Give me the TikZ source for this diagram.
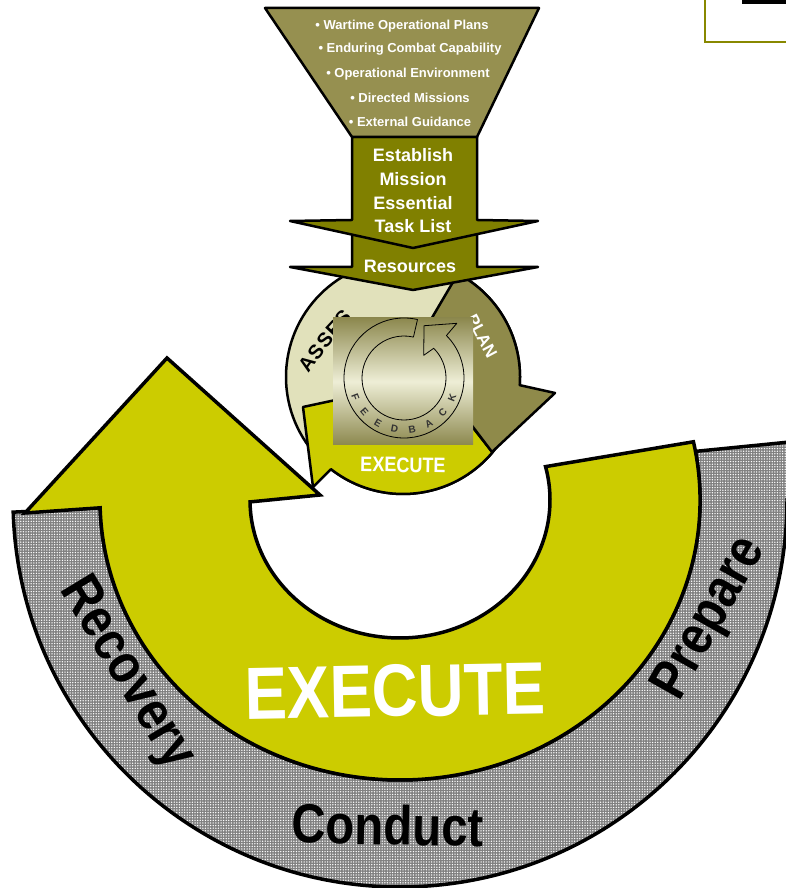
\documentclass[tikz,border=0pt]{standalone}
\usepackage{fontspec}
\setmainfont{Liberation Sans}
\newfontfamily\narrowsf[FakeStretch=0.86]{Liberation Sans}
\usetikzlibrary{patterns.meta}

\definecolor{bandgray}{RGB}{128,128,128}
\definecolor{ringyellow}{RGB}{204,204,0}
\definecolor{funnelolive}{RGB}{150,144,80}
\definecolor{stemolive}{RGB}{128,128,0}
\definecolor{assesscream}{RGB}{225,225,187}
\definecolor{planolive}{RGB}{143,138,74}
\definecolor{fbolive}{RGB}{140,136,78}
\definecolor{fbcream}{RGB}{238,238,214}
\definecolor{boxolive}{RGB}{136,136,0}

\tikzset{
  ringedge/.style={draw=black, line width=3.5pt, line join=miter},
  cycleedge/.style={draw=black, line width=2.5pt, line join=round},
  feedbackline/.style={draw=black, line width=0.8pt, line join=round},
  bandfill/.style={preaction={fill=bandgray},
    preaction={pattern={Dots[distance=2.6pt, radius=0.75pt]}, pattern color=white}},
  bulletlabel/.style={text=white, font=\bfseries\fontsize{13}{13}\selectfont},
  stemlabel/.style={text=white, align=center, font=\bfseries\fontsize{18}{23.7}\selectfont},
  assesslabel/.style={text=black, inner sep=0pt, font=\bfseries\fontsize{20}{20}\selectfont},
  cyclelabel/.style={text=white, font=\bfseries\fontsize{17}{17}\selectfont},
  fbletter/.style={text=black!80, inner sep=0pt, font=\bfseries\fontsize{10}{10}\selectfont},
  phaselabel/.style={text=black, font=\narrowsf\bfseries\fontsize{55}{55}\selectfont},
  executelabel/.style={text=white, font=\narrowsf\bfseries\fontsize{74}{74}\selectfont},
}

\begin{document}
\begin{tikzpicture}[x=1pt, y=1pt]
  \useasboundingbox (0,0) rectangle (786,888);
  \clip (0,0) rectangle (786,888);

  % Phase band and the big Execute arrow, around one centre
  \begin{scope}[shift={(400,388)}]
    \path[bandfill, ringedge] (181.8:387) arc[start angle=181.8, end angle=360, radius=387]
      -- (400,0) -- (400,59) -- (10:300 and 280)
      arc[start angle=10, end angle=-178.4, x radius=300, y radius=280] -- cycle;
    \draw[ringedge, fill=ringyellow] (14:150 and 138) -- (12:300 and 280)
      arc[start angle=12, end angle=-178.4, x radius=300, y radius=280]
      -- (-375,-13) -- (-233,142) -- (-80,5) -- (180.8:150 and 138)
      arc[start angle=180.8, end angle=374, x radius=150, y radius=138] -- cycle;
  \end{scope}

  % Phase names
  \node[phaselabel, rotate=-58.8] (recovery) at (126,214) {Recovery};
  \node[phaselabel, rotate=-1] (conduct) at (388,63) {Conduct};
  \node[phaselabel, rotate=60.6] (prepare) at (711,269) {Prepare};
  \node[executelabel, rotate=1] (bigexec) at (395,197) {EXECUTE};

  % Small assess / plan / execute cycle
  \begin{scope}[shift={(403,511)}]
    \draw[cycleedge, fill=assesscream] (0,0) circle[radius=117];
    \draw[cycleedge, fill=ringyellow] (-40.1:117) arc[start angle=-40.1, end angle=-128, radius=117]
      -- (-90,-110) -- (-100,-30) -- (-58,-21) -- (52,-28) -- cycle;
    \draw[cycleedge, fill=planolive] (20,44) -- (62:117) arc[start angle=62, end angle=-4, radius=117]
      -- (152,-16) -- (89,-75) -- (57,-33) -- cycle;
  \end{scope}
  \foreach \ch/\lx/\ly/\rot [count=\i] in {A/307/524/55, S/316/536/53, S/325/548/50,
      E/334/559/47, S/343/570/44, S/356/552/40}
    \node[assesslabel, rotate=\rot] (assess\i) at (\lx,\ly) {\ch};
  \node[cyclelabel, rotate=-62] (plan) at (482,552) {PLAN};
  \node[cyclelabel, font=\narrowsf\bfseries\fontsize{21}{21}\selectfont, rotate=-1]
    (cycleexec) at (403,423) {EXECUTE};

  % Feedback tile
  \shade[top color=fbolive, bottom color=fbolive, middle color=fbcream] (333,443) rectangle (473,570);
  \begin{scope}[shift={(404,510)}]
    \draw[feedbackline] (77:42) -- (77:60) arc[start angle=77, end angle=405, radius=60]
      -- (46:76) -- (69:56) -- (49:30) -- (45:42)
      arc[start angle=405, end angle=77, radius=42] -- cycle;
    \foreach \ch [count=\i] in {F,E,E,D,B,A,C,K} {
      \pgfmathsetmacro{\ang}{181.5+19.5*\i}
      \node[fbletter, rotate=\ang+90] (fb\i) at (\ang:52) {\ch};
    }
  \end{scope}

  % Inputs funnel, task list arrow and resources arrow
  \draw[cycleedge, fill=stemolive] (352,668) -- (352,621) -- (290,621) -- (413,598)
    -- (538,621) -- (477,621) -- (477,668) -- cycle;
  \draw[cycleedge, fill=stemolive] (352,751) -- (352,668) -- (290,667) -- (413,640)
    -- (538,667) -- (477,668) -- (477,751) -- cycle;
  \draw[cycleedge, fill=funnelolive] (265,880) -- (539,880) -- (477,751) -- (352,751) -- cycle;

  \node[bulletlabel] (plans) at (402,862) {\textbullet\ Wartime Operational Plans};
  \node[bulletlabel] (capability) at (410,839) {\textbullet\ Enduring Combat Capability};
  \node[bulletlabel] (environment) at (408,814) {\textbullet\ Operational Environment};
  \node[bulletlabel] (missions) at (410,790) {\textbullet\ Directed Missions};
  \node[bulletlabel] (guidance) at (410,766) {\textbullet\ External Guidance};

  \node[stemlabel] (establish) at (413,697) {Establish\\Mission\\Essential\\Task List};
  \node[stemlabel] (resources) at (410,622) {Resources};

  % Corner of the title box
  \draw[boxolive, line width=2pt] (705,890) -- (705,846) -- (790,846);
  \fill[black] (742,884) rectangle (790,890);
\end{tikzpicture}
\end{document}
